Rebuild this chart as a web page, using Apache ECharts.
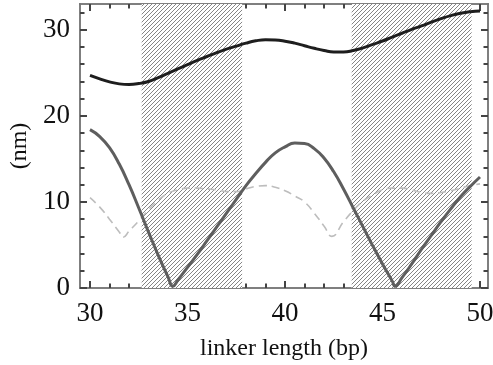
<!DOCTYPE html>
<html>
<head>
<meta charset="utf-8">
<script src="https://cdn.jsdelivr.net/npm/echarts@6/dist/echarts.min.js"></script>
<style>html,body{margin:0;padding:0;background:#fff}#c{width:493px;height:365px}</style>
</head>
<body>
<div id="c"></div>
<script>
// ---- data ----
const xTop = [30,30.5,31,31.5,32,32.5,33,33.5,34,34.5,35,35.5,36,36.5,37,37.5,38,38.5,39,39.5,40,40.5,41,41.5,42,42.5,43,43.5,44,44.5,45,45.5,46,46.5,47,47.5,48,48.5,49,49.5,50];
const yTop = [24.7,24.3,23.95,23.72,23.65,23.75,24.0,24.45,24.95,25.45,25.95,26.45,26.9,27.35,27.75,28.1,28.45,28.72,28.85,28.82,28.68,28.45,28.15,27.85,27.6,27.43,27.43,27.6,27.9,28.3,28.7,29.15,29.6,30.05,30.45,30.9,31.3,31.65,31.92,32.1,32.2];

const xMid = [30,30.5,31,31.5,32,32.5,33,33.5,34,34.25,34.5,35,35.5,36,36.5,37,37.5,38,38.5,39,39.5,40,40.5,41,41.5,42,42.5,43,43.5,44,44.5,45,45.5,45.65,46,46.5,47,47.5,48,48.5,49,49.5,50];
const yMid = [18.4,17.6,16.3,14.4,12.0,9.3,6.5,3.8,1.3,0.2,0.9,2.4,3.9,5.5,7.1,8.7,10.3,11.9,13.3,14.6,15.7,16.4,16.85,16.8,16.2,15.1,13.5,11.5,9.3,7.1,4.9,2.8,0.8,0.2,1.2,2.8,4.5,6.1,7.7,9.2,10.6,11.8,12.9];

const xDash = [30,30.5,31,31.5,31.7,32,32.5,33,33.5,34,34.5,35,35.5,36,36.5,37,37.5,38,38.5,39,39.5,40,40.5,41,41.5,42,42.4,43,43.5,44,44.5,45,45.5,46,46.5,47,47.5,48,48.5,49,49.5,50];
const yDash = [10.5,9.4,8.0,6.5,5.9,6.6,7.8,9.1,10.2,11.0,11.4,11.6,11.6,11.5,11.4,11.2,11.2,11.5,11.8,11.9,11.7,11.3,10.7,10.0,8.7,7.2,6.0,7.7,9.0,10.1,10.8,11.4,11.6,11.6,11.4,11.1,11.0,11.1,11.3,11.6,11.9,12.1];

const hatchRegions = [[32.65, 37.8], [43.42, 49.57]];

const xTicks = [30, 35, 40, 45, 50];
const yTicks = [0, 10, 20, 30];
const xMinorTicks = [31,32,33,34,36,37,38,39,41,42,43,44,46,47,48,49];
const yMinorTicks = [2,4,6,8,12,14,16,18,22,24,26,28,32];

// axis extents (frame edges)
const X_MIN = 29.487, X_MAX = 50.41, Y_MIN = 0, Y_MAX = 33;

// ---- hatch pattern ----
function makeHatch() {
  const s = 4;
  const c = document.createElement('canvas');
  c.width = s; c.height = s;
  const g = c.getContext('2d');
  g.fillStyle = '#ffffff';
  g.fillRect(0, 0, s, s);
  g.strokeStyle = '#777777';
  g.lineWidth = 0.9;
  g.beginPath();
  g.moveTo(0, s); g.lineTo(s, 0);
  g.moveTo(-1, 1); g.lineTo(1, -1);
  g.moveTo(s - 1, s + 1); g.lineTo(s + 1, s - 1);
  g.stroke();
  return c;
}

const zip = (xs, ys) => xs.map((x, i) => [x, ys[i]]);
const FONT = 'Liberation Serif';
const FRAME = '#777';
const TICK = '#444';

function mkAxis(dim, position, ticks, len, labels, extra) {
  const a = {
    type: 'value', position: position, offset: 0,
    min: dim === 'x' ? X_MIN : Y_MIN, max: dim === 'x' ? X_MAX : Y_MAX,
    axisLine: {show: true, onZero: false, lineStyle: {color: FRAME, width: 1.5, cap: 'square'}},
    axisTick: {show: true, inside: true, length: len, customValues: ticks.slice(),
      lineStyle: {color: TICK, width: 2, opacity: 1}},
    axisLabel: labels ? {show: true, customValues: ticks.slice(), margin: dim === 'x' ? 12 : 10,
      fontFamily: FONT, fontSize: 27, color: '#111'} : {show: false},
    splitLine: {show: false}
  };
  return Object.assign(a, extra || {});
}

const chart = echarts.init(document.getElementById('c'), null, {renderer: 'canvas'});

chart.setOption({
  animation: false,
  backgroundColor: '#fff',
  grid: {left: 80, right: 5, top: 4, bottom: 77, show: false, containLabel: false, outerBoundsMode: 'none'},
  xAxis: [
    mkAxis('x', 'bottom', xTicks, 7, true, {
      name: 'linker length (bp)', nameLocation: 'middle', nameGap: 49,
      nameTextStyle: {fontFamily: FONT, fontSize: 24, color: '#111'}
    }),
    mkAxis('x', 'bottom', xMinorTicks, 4.5, false),
    mkAxis('x', 'top', xTicks, 7, false),
    mkAxis('x', 'top', xMinorTicks, 4.5, false)
  ],
  yAxis: [
    mkAxis('y', 'left', yTicks, 7, true, {
      name: '(nm)', nameLocation: 'middle', nameGap: 47, nameRotate: 90,
      nameTextStyle: {fontFamily: FONT, fontSize: 24, color: '#111'}
    }),
    mkAxis('y', 'left', yMinorTicks, 4.5, false),
    mkAxis('y', 'right', yTicks, 7, false),
    mkAxis('y', 'right', yMinorTicks, 4.5, false)
  ],
  series: [
    {
      type: 'line', xAxisIndex: 0, yAxisIndex: 0,
      data: zip(xDash, yDash), smooth: 0.5, symbol: 'none', z: 3,
      lineStyle: {color: '#bdbdbd', width: 1.6, type: [8, 5]},
      markArea: {
        silent: true, z: 1,
        itemStyle: {color: {image: makeHatch(), repeat: 'repeat'}},
        data: hatchRegions.map(r => [{xAxis: r[0]}, {xAxis: r[1]}])
      }
    },
    {
      type: 'line', xAxisIndex: 0, yAxisIndex: 0,
      data: zip(xMid, yMid), smooth: 0.5, symbol: 'none', z: 4,
      lineStyle: {color: '#5e5e5e', width: 3}
    },
    {
      type: 'line', xAxisIndex: 0, yAxisIndex: 0,
      data: zip(xTop, yTop), smooth: 0.5, symbol: 'none', z: 4,
      lineStyle: {color: '#1e1e1e', width: 3}
    }
  ]
});
</script>
</body>
</html>
